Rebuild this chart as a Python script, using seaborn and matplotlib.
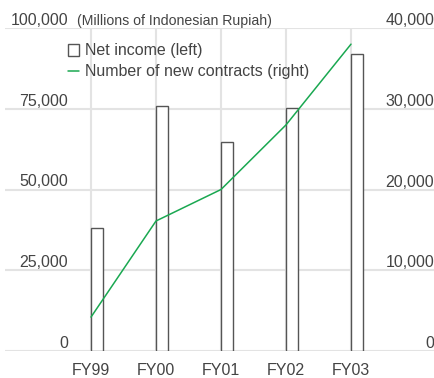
import numpy as np
import pandas as pd
import matplotlib
matplotlib.use("Agg")
import matplotlib.pyplot as plt
import matplotlib.transforms as mtransforms
import seaborn as sns

# Fiscal years, net income (left axis) and new contracts (right axis)
years = ["FY99", "FY00", "FY01", "FY02", "FY03"]
net_income = [38000, 75800, 64600, 75300, 92000]
new_contracts = [4200, 16100, 20000, 28000, 38000]
left_ticks = [0, 25000, 50000, 75000, 100000]
right_ticks = [0, 10000, 20000, 30000, 40000]
unit_note = "(Millions of Indonesian Rupiah)"
bar_label = "Net income (left)"
line_label = "Number of new contracts (right)"

sns.set_theme(style="white")
plt.rcParams["font.family"] = ["Liberation Sans", "DejaVu Sans"]

TEXT = "#444444"
GRID = "#e3e3e3"
GREEN = "#1aa851"
EDGE = "#555555"
FS = 11.5

W, H = 435, 378
fig = plt.figure(figsize=(W / 100, H / 100), dpi=100)
fig.patch.set_facecolor("white")
ax = fig.add_axes([5 / W, 27 / H, 430 / W, 323 / H])

df = pd.DataFrame({"year": years, "net_income": net_income,
                   "contracts": new_contracts})

bar_w = 0.18
sns.barplot(data=df, x="year", y="net_income", order=years, width=bar_w,
            color="white", edgecolor=EDGE, linewidth=1.0, saturation=1,
            ax=ax, zorder=2)
# each bar starts at its tick and extends to the right
for p in ax.patches:
    p.set_x(p.get_x() + bar_w / 2)

ax2 = ax.twinx()
sns.lineplot(x=np.arange(len(years)), y=df["contracts"], ax=ax2,
             color=GREEN, linewidth=1.1)

ax.set_xlim(-1.323, 5.292)
ax.set_ylim(0, 100000)
ax2.set_ylim(0, 40000)

ax.set_xticks(range(len(years)))
ax.set_xticklabels(years)
ax.set_yticks(left_ticks)
ax.set_yticklabels([])
ax.grid(True, color=GRID, linewidth=1.5)
ax.set_axisbelow(True)
ax.tick_params(axis="both", length=0)
ax.tick_params(axis="x", pad=8.5, labelsize=FS, labelcolor=TEXT)
ax.tick_params(axis="y", labelleft=False)
ax.set_xlabel("")
ax.set_ylabel("")
ax2.set_yticks([])
ax2.set_ylabel("")
ax2.grid(False)
for a in (ax, ax2):
    for s in a.spines.values():
        s.set_visible(False)

# value labels sit just above their gridlines
left_tr = mtransforms.offset_copy(
    mtransforms.blended_transform_factory(ax.transAxes, ax.transData),
    fig=fig, x=0, y=3, units="dots")
right_tr = mtransforms.offset_copy(
    mtransforms.blended_transform_factory(ax2.transAxes, ax2.transData),
    fig=fig, x=0, y=3, units="dots")
for v in left_ticks:
    ax.text(0.147, v, f"{v:,}", transform=left_tr, ha="right",
            va="baseline", fontsize=FS, color=TEXT)
for v in right_ticks:
    ax2.text(0.9977, v, f"{v:,}", transform=right_tr, ha="right",
             va="baseline", fontsize=FS, color=TEXT)
ax.text(0.168, left_ticks[-1], unit_note, transform=left_tr, ha="left",
        va="baseline", fontsize=10.2, color=TEXT)

handles = [ax.patches[0], ax2.lines[0]]
leg = fig.legend(handles, [bar_label, line_label], loc="upper left",
                 bbox_to_anchor=(68 / W, 1 - 43.5 / H), frameon=False,
                 borderpad=0, borderaxespad=0, handlelength=0.7,
                 handleheight=0.7, handletextpad=0.35, labelspacing=0.35,
                 fontsize=FS)
for t in leg.get_texts():
    t.set_color(TEXT)

fig.savefig("out.png", dpi=100, facecolor="white")
